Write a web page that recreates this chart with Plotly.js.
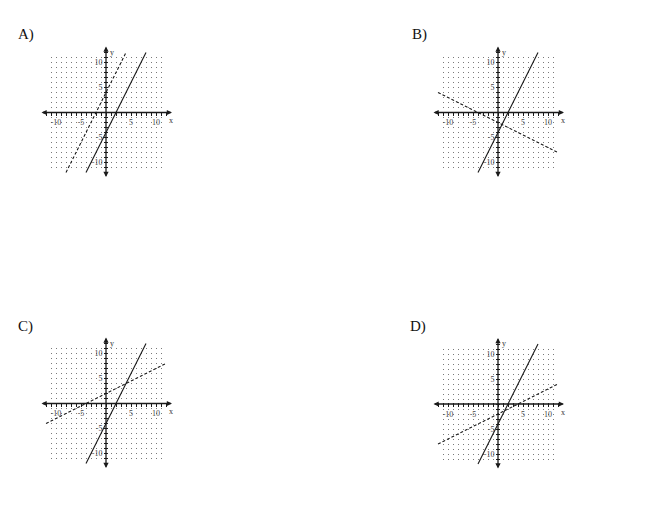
<!DOCTYPE html>
<html>
<head>
<meta charset="utf-8">
<script src="https://cdn.plot.ly/plotly-3.0.1.min.js"></script>
<style>html,body{margin:0;padding:0;background:#fff;}#chart{width:650px;height:510px;}</style>
</head>
<body>
<div id="chart"></div>
<script>
// ---- data ----
const panelLabels = ['A)', 'B)', 'C)', 'D)'];
const solidX = [-4, 8];
const solidY = [-12, 12];
const dashedAX = [-8, 4];
const dashedAY = [-12, 12];
const dashedBX = [-12, 12];
const dashedBY = [4, -8];
const dashedCX = [-12, 12];
const dashedCY = [-4, 8];
const dashedDX = [-12, 12];
const dashedDY = [-8, 4];
const tickVals = [-12,-11,-10,-9,-8,-7,-6,-5,-4,-3,-2,-1,0,1,2,3,4,5,6,7,8,9,10,11,12];
const labelVals = [-10, -5, 5, 10];
const labelText = ['-10', '-5', '5', '10'];

const dashedX = [dashedAX, dashedBX, dashedCX, dashedDX];
const dashedY = [dashedAY, dashedBY, dashedCY, dashedDY];

// ---- layout geometry ----
const W = 650, H = 510, S = 5;
const panels = [
  {cx: 106, cy: 112.5, lx: 16, ly: 35},
  {cx: 498, cy: 112.5, lx: 410, ly: 35},
  {cx: 106, cy: 403.5, lx: 16, ly: 327},
  {cx: 498, cy: 404, lx: 408, ly: 327}
];
const GX = 11.5, GYT = 11.1, GYB = 11.5, DR = 13.3, AR = 13.2;
const ink = '#1a1a1a';
const serif = 'Liberation Serif, Times New Roman, serif';

const tickText = tickVals.map(v => {
  const k = labelVals.indexOf(v);
  return k >= 0 ? labelText[k] : '';
});

const traces = [];
const layout = {
  width: W, height: H,
  margin: {l: 0, r: 0, t: 0, b: 0},
  paper_bgcolor: '#ffffff',
  plot_bgcolor: 'rgba(0,0,0,0)',
  showlegend: false,
  annotations: []
};

panels.forEach((p, i) => {
  const g = i + 1, d = i + 5;
  // grid subplot
  layout['xaxis' + g] = {
    domain: [(p.cx - GX * S) / W, (p.cx + GX * S) / W],
    range: [-GX, GX], anchor: 'y' + g,
    showgrid: true, gridcolor: '#7a7a7a', gridwidth: 1, griddash: '1px,4px',
    tickmode: 'linear', tick0: 0, dtick: 1,
    showticklabels: false, ticks: '', zeroline: false, showline: false, fixedrange: true
  };
  layout['yaxis' + g] = {
    domain: [(H - (p.cy + GYB * S)) / H, (H - (p.cy - GYT * S)) / H],
    range: [-GYB, GYT], anchor: 'x' + g,
    showgrid: false, showticklabels: false, ticks: '', zeroline: false, showline: false, fixedrange: true
  };
  traces.push({x: [], y: [], xaxis: 'x' + g, yaxis: 'y' + g, mode: 'lines', hoverinfo: 'skip'});

  // data subplot
  const tickfont = {family: serif, size: 8, color: '#444'};
  layout['xaxis' + d] = {
    domain: [(p.cx - DR * S) / W, (p.cx + DR * S) / W],
    range: [-DR, DR], anchor: 'free', position: (H - (p.cy - 2)) / H,
    showgrid: false, zeroline: false, showline: false,
    tickmode: 'array', tickvals: tickVals, ticktext: tickText,
    ticks: 'outside', ticklen: 4, tickwidth: 1, tickcolor: ink,
    tickfont: tickfont, ticklabelstandoff: 0, fixedrange: true
  };
  layout['yaxis' + d] = {
    domain: [(H - (p.cy + DR * S)) / H, (H - (p.cy - DR * S)) / H],
    range: [-DR, DR], anchor: 'free', position: (p.cx + 2) / W, side: 'left',
    showgrid: false, zeroline: false, showline: false,
    tickmode: 'array', tickvals: tickVals, ticktext: tickText.slice(),
    ticks: 'outside', ticklen: 4, tickwidth: 1, tickcolor: ink,
    tickfont: tickfont, ticklabelstandoff: 0, fixedrange: true
  };

  traces.push({
    x: solidX, y: solidY, xaxis: 'x' + d, yaxis: 'y' + d, mode: 'lines',
    line: {color: ink, width: 1.1}, hoverinfo: 'skip'
  });
  traces.push({
    x: dashedX[i], y: dashedY[i], xaxis: 'x' + d, yaxis: 'y' + d, mode: 'lines',
    line: {color: ink, width: 1.1, dash: '3px,2px'}, hoverinfo: 'skip'
  });

  const xr = 'x' + d, yr = 'y' + d;
  layout.annotations.push({
    xref: xr, yref: yr, axref: xr, ayref: yr,
    x: AR, y: 0, ax: -AR, ay: 0, text: '', showarrow: true,
    arrowside: 'end+start', arrowhead: 2, arrowsize: 0.8, arrowwidth: 1.3, arrowcolor: ink, standoff: 0
  });
  layout.annotations.push({
    xref: xr, yref: yr, axref: xr, ayref: yr,
    x: 0, y: AR, ax: 0, ay: -AR, text: '', showarrow: true,
    arrowside: 'end+start', arrowhead: 2, arrowsize: 0.8, arrowwidth: 1.3, arrowcolor: ink, standoff: 0
  });
  layout.annotations.push({
    xref: xr, yref: yr, x: 12.9, y: -1.6, text: 'x', showarrow: false,
    font: {family: serif, size: 8, color: '#333'}
  });
  layout.annotations.push({
    xref: xr, yref: yr, x: 1.1, y: 12.1, text: 'y', showarrow: false,
    font: {family: serif, size: 8, color: '#333'}
  });
  layout.annotations.push({
    xref: 'paper', yref: 'paper', x: p.lx / W, y: (H - p.ly) / H,
    xanchor: 'left', yanchor: 'middle', text: panelLabels[i], showarrow: false,
    font: {family: serif, size: 15, color: '#111'}
  });
});

Plotly.newPlot('chart', traces, layout, {displayModeBar: false, staticPlot: true});
</script>
</body>
</html>
